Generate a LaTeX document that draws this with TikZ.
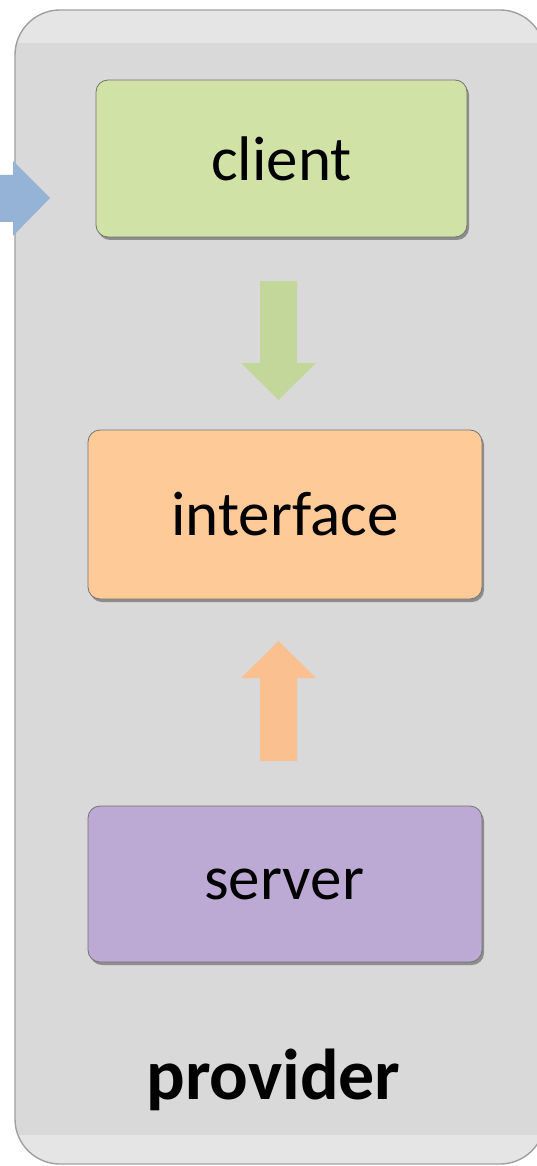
\documentclass[tikz,border=0pt]{standalone}
\usepackage{fontspec}
\setmainfont{Carlito}
\usetikzlibrary{shadows}
\definecolor{panelfill}{HTML}{D9D9D9}
\definecolor{panelband}{HTML}{E5E5E5}
\definecolor{panelline}{HTML}{A0A0A0}
\definecolor{clientfill}{HTML}{D0E2A5}
\definecolor{interfill}{HTML}{FDCA98}
\definecolor{serverfill}{HTML}{BCA9D4}
\definecolor{greenarr}{HTML}{C4D79B}
\definecolor{orangearr}{HTML}{FAC090}
\definecolor{bluearr}{HTML}{95B3D7}
\tikzset{
  box/.style={draw=black!55, line width=0.8pt, rounded corners=12pt,
    drop shadow={shadow xshift=2pt, shadow yshift=-3pt, opacity=0.35, fill=black},
    inner sep=0pt, font=\fontsize{63}{75}\selectfont},
}
\begin{document}
\begin{tikzpicture}[x=1pt,y=-1pt]
\useasboundingbox (0,0) rectangle (536,1166);
% outer panel
\begin{scope}
  \clip[rounded corners=45pt] (15,10) rectangle (545,1164);
  \fill[panelfill] (15,10) rectangle (545,1164);
  \fill[panelband] (15,10) rectangle (545,43);
  \fill[panelband] (15,1135) rectangle (545,1164);
\end{scope}
\draw[panelline, line width=1.4pt, rounded corners=45pt] (15,10) rectangle (545,1164);
% boxes
\node[box, fill=clientfill, minimum width=371pt, minimum height=157pt] (client) at (281.5,158.5) {client};
\node[box, fill=interfill, minimum width=394pt, minimum height=169pt] (iface) at (285,514.5) {interface};
\node[box, fill=serverfill, minimum width=394pt, minimum height=156pt] (server) at (285,884) {\hspace*{-2pt}server};
\node[anchor=base, font=\fontsize{72}{86}\selectfont\bfseries] (prov) at (273.5,1099) {provider};
% block arrows
\fill[greenarr] (260,281) -- (297,281) -- (297,363) -- (316,363) -- (278.5,400)
  -- (241,363) -- (260,363) -- cycle;
\fill[orangearr] (260,761) -- (297,761) -- (297,678) -- (316,678) -- (278.5,641)
  -- (241,678) -- (260,678) -- cycle;
\fill[bluearr] (-5,175) -- (13,175) -- (13,161) -- (50,198) -- (13,236) -- (13,222)
  -- (-5,222) -- cycle;
\end{tikzpicture}
\end{document}
